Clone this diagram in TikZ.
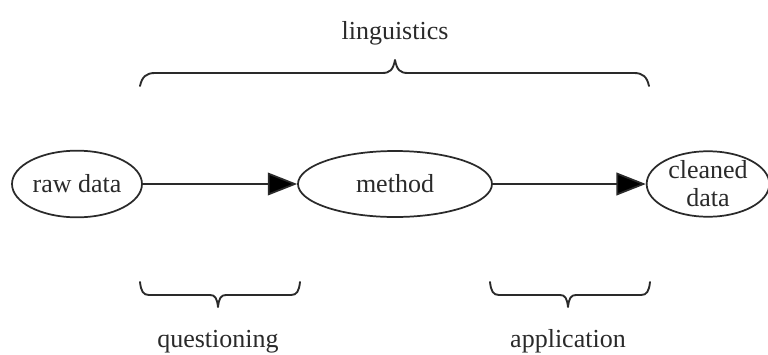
\documentclass[tikz,border=0pt]{standalone}
\usepackage{fontspec}
\setmainfont{Liberation Serif}
\usetikzlibrary{shapes.geometric,arrows.meta}
\definecolor{ink}{HTML}{2A2A2A}
\begin{document}
\begin{tikzpicture}[x=0.75pt,y=-0.75pt,
  every node/.style={text=ink,font=\fontsize{19.5}{21}\selectfont},
  oval/.style={draw=ink,line width=1.3pt,ellipse,inner sep=0pt},
  flow/.style={draw=ink,line width=1.3pt,-{Triangle[length=22pt,width=17pt,fill=black]}},
  bracepath/.style={draw=ink,line width=1.4pt,line cap=round,line join=round}]
\useasboundingbox (0,0) rectangle (768,354);
\fill[white] (0,0) rectangle (768,354);
\node[oval,minimum width=97.5pt,minimum height=50pt] (raw) at (77,184) {raw data};
\node[oval,minimum width=145.5pt,minimum height=49.5pt] (meth) at (395,184) {method};
\node[oval,minimum width=92pt,minimum height=49pt,align=center] (clean) at (708,184) {cleaned\\data};
\draw[flow] (raw) -- (meth);
\draw[flow] (meth) -- (clean);
% top brace
\draw[bracepath] (140,86) .. controls (142,77) and (146,73) .. (155,73) -- (382,73)
  .. controls (390,73) and (393,70) .. (395,60)
  .. controls (397,70) and (400,73) .. (408,73) -- (634,73)
  .. controls (643,73) and (647,77) .. (649,86);
\node[anchor=base] (ling) at (395,39) {linguistics};
% bottom left brace
\draw[bracepath] (140,282) .. controls (141,291) and (143,295) .. (149,295) -- (210,295)
  .. controls (215,295) and (217,298) .. (218,307)
  .. controls (219,298) and (221,295) .. (226,295) -- (291,295)
  .. controls (297,295) and (299,291) .. (300,282);
\node[anchor=base] (quest) at (218,347) {questioning};
% bottom right brace
\draw[bracepath] (490,282) .. controls (491,291) and (493,295) .. (499,295) -- (560,295)
  .. controls (565,295) and (567,298) .. (568,307)
  .. controls (569,298) and (571,295) .. (576,295) -- (641,295)
  .. controls (647,295) and (649,291) .. (650,282);
\node[anchor=base] (appl) at (568,347) {application};
\end{tikzpicture}
\end{document}
